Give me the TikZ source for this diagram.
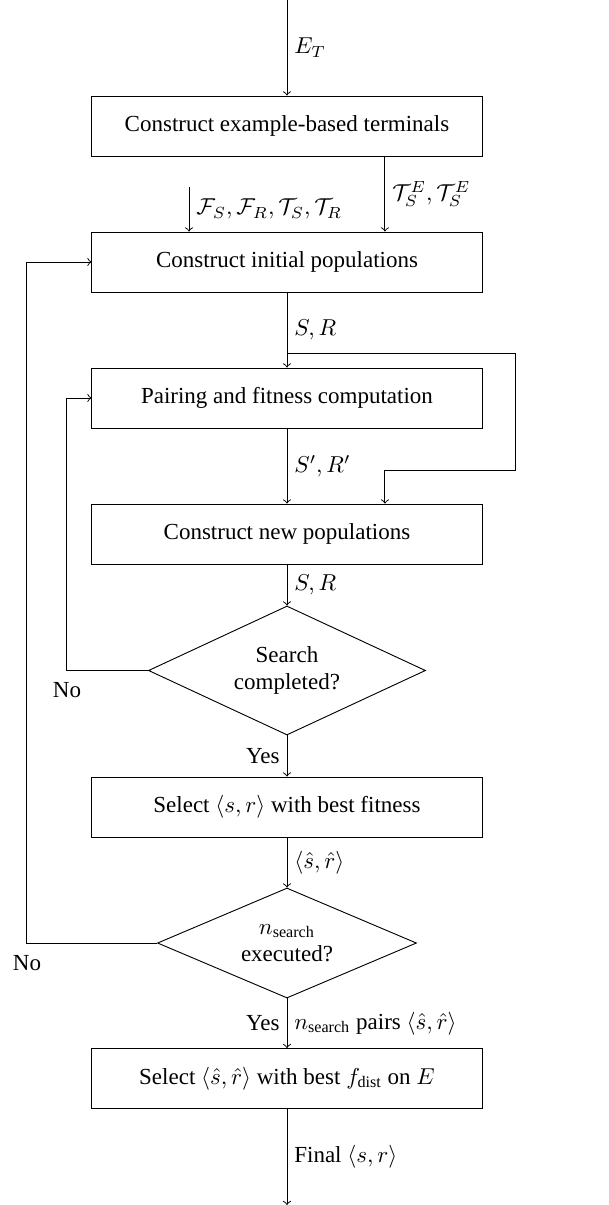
\documentclass[tikz,border=0pt]{standalone}
\usepackage{amsmath}
\usepackage{fontspec}
\setmainfont{Liberation Serif}
\usetikzlibrary{positioning,shapes.geometric,calc}
\tikzset{
    stepbox/.style={draw,minimum width=5.96cm,minimum height=0.917cm,
        inner sep=2pt,align=center},
    decision/.style={draw,diamond,aspect=2.15,inner sep=0pt,align=center},
    arrow/.style={->},
    lbl/.style={inner sep=3pt},
    nolbl/.style={below,inner sep=5pt}
}

\begin{document}
\begin{tikzpicture}
        \useasboundingbox (-4.385,0) rectangle (4.920,-18.412);
        % boxes and decisions
        \node[stepbox] (terminals) at (0,-1.925) {Construct example-based terminals};
        \node[stepbox] (initpop) at (0,-4.003) {Construct initial populations};
        \node[stepbox] (pairing) at (0,-6.081) {Pairing and fitness computation};
        \node[stepbox] (newpop) at (0,-8.160) {Construct new populations};
        \node[decision,minimum width=4.233cm,minimum height=1.971cm] (searchdone)
            at (0,-10.245) {Search\\completed?};
        \node[stepbox] (selectbest) at (0,-12.331) {Select $\langle s,r\rangle$ with best fitness};
        \node[decision,minimum width=3.958cm,minimum height=1.681cm] (runsdone)
            at (0,-14.409) {$n_{\text{search}}$\\executed?};
        \node[stepbox] (selectfinal) at (0,-16.480)
            {Select $\langle\hat{s},\hat{r}\rangle$ with best $f_{\text{dist}}$ on $E$};
        % free ends and corners
        \coordinate (start) at (0,0);
        \coordinate (finish) at (0,-18.412);
        \coordinate (setsin) at (-1.497,-2.857);
        \coordinate (termout) at (1.497,-1.925);
        \coordinate (split) at (0,-5.394);
        \coordinate (splitright) at (3.484,-5.394);
        \coordinate (backright) at (3.484,-7.182);
        \coordinate (newin) at (1.497,-7.182);
        \coordinate (innerno) at (-3.362,-10.245);
        \coordinate (outerno) at (-3.973,-14.409);
        % connectors
        \draw[arrow] (start) -- node[lbl,right] {$E_T$} (terminals.north);
        \draw[arrow] (setsin) -- node[lbl,right]
            {$\mathcal{F}_S,\mathcal{F}_R,\mathcal{T}_S,\mathcal{T}_R$} (setsin |- initpop.north);
        \draw[arrow] (termout |- terminals.south) -- node[lbl,right]
            {$\mathcal{T}_S^E,\mathcal{T}_S^E$} (termout |- initpop.north);
        \draw[arrow] (initpop.south) -- node[lbl,right] {$S,R$} (pairing.north);
        \draw[arrow] (split) -- (splitright) -- (backright) -- (newin) -- (newin |- newpop.north);
        \draw[arrow] (pairing.south) -- node[lbl,right] {$S',R'$} (newpop.north);
        \draw[arrow] (newpop.south) -- node[lbl,right] {$S,R$} (searchdone.north);
        \draw[arrow] (searchdone.west) -- (innerno) |- (pairing.west);
        \node[nolbl] (noone) at (innerno) {No};
        \draw[arrow] (searchdone.south) -- node[lbl,left] {Yes} (selectbest.north);
        \draw[arrow] (selectbest.south) -- node[lbl,right]
            {$\langle\hat{s},\hat{r}\rangle$} (runsdone.north);
        \draw[arrow] (runsdone.west) -- (outerno) |- (initpop.west);
        \node[nolbl] (notwo) at (outerno) {No};
        \draw[arrow] (runsdone.south) -- node[lbl,left] {Yes}
            node[lbl,right] {$n_{\text{search}}$ pairs $\langle\hat{s},\hat{r}\rangle$} (selectfinal.north);
        \draw[arrow] (selectfinal.south) -- node[lbl,right]
            {Final $\langle s,r\rangle$} (finish);
    \end{tikzpicture}
\end{document}
